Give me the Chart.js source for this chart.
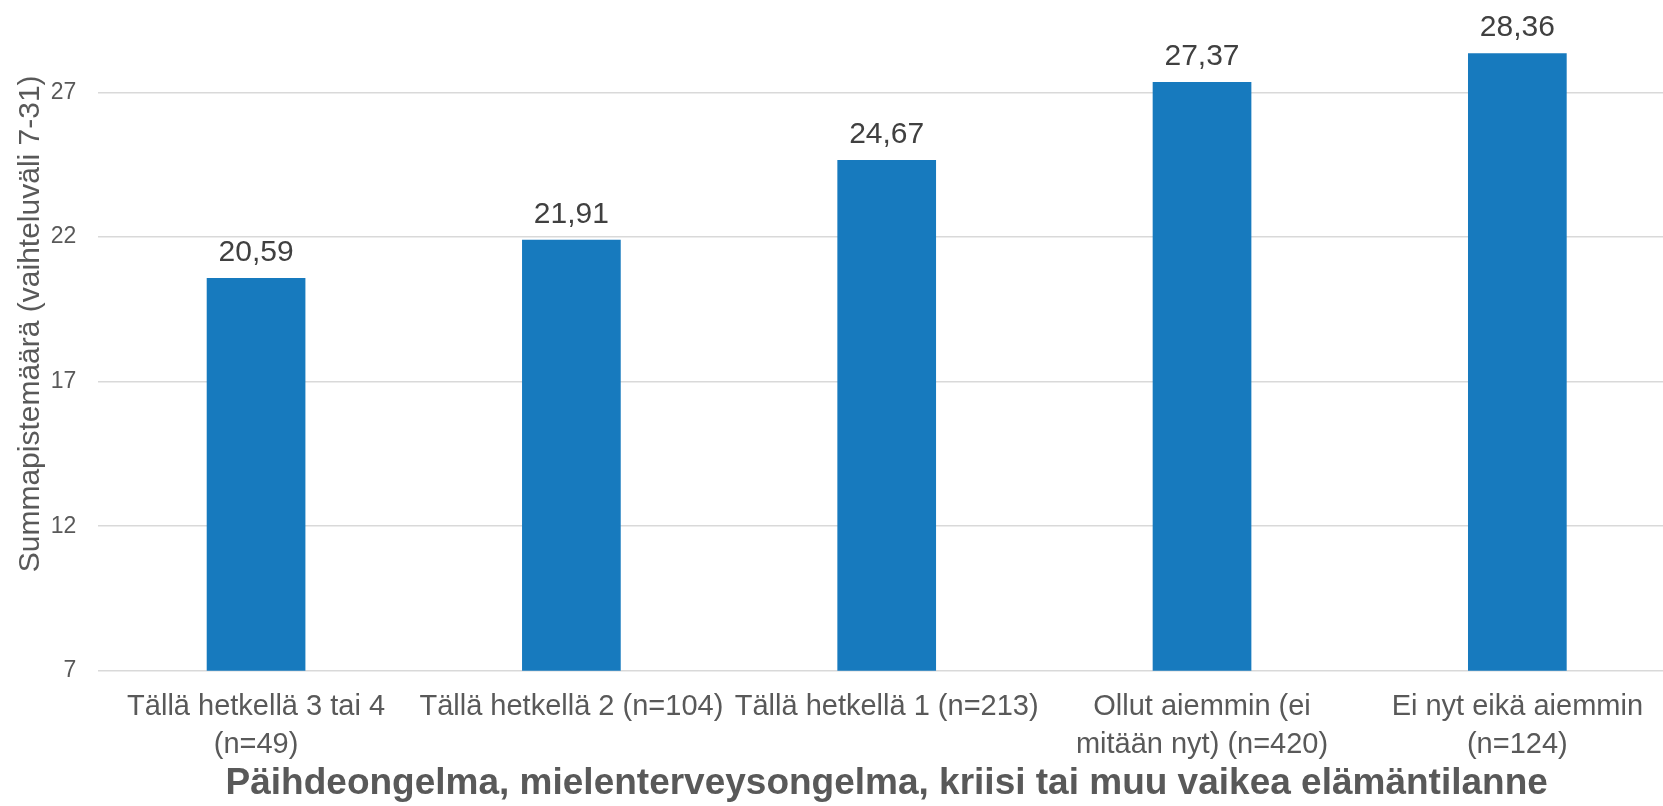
<!DOCTYPE html>
<html lang="fi">
<head>
  <meta charset="UTF-8" />
  <title>Summapistemäärä</title>
  <style>
    html, body {
      margin: 0;
      padding: 0;
      background: #fff;
      overflow: hidden;
      width: 1663px;
      height: 806px;
    }
    /* plot runs a little past the page on top and right */
    .wrap {
      position: absolute;
      left: 0;
      top: -23px;
      width: 1675px;
      height: 829px;
    }
  </style>
</head>
<body>
  <div class="wrap"><canvas id="chart"></canvas></div>

  <script src="https://cdn.jsdelivr.net/npm/chart.js"></script>
  <script>
    const categories = [
      ['Tällä hetkellä 3 tai 4', '(n=49)'],
      'Tällä hetkellä 2 (n=104)',
      'Tällä hetkellä 1 (n=213)',
      ['Ollut aiemmin (ei', 'mitään nyt) (n=420)'],
      ['Ei nyt eikä aiemmin', '(n=124)']
    ];
    const scores = [20.59, 21.91, 24.67, 27.37, 28.36];
    const yTicks = [7, 12, 17, 22, 27];
    const yTitle = 'Summapistemäärä (vaihteluväli 7-31)';
    const xTitle = 'Päihdeongelma, mielenterveysongelma, kriisi tai muu vaikea elämäntilanne';

    const FONT = "'Liberation Sans', Arial, sans-serif";

    // value labels above each bar, finnish decimal comma
    const valueLabels = {
      id: 'valueLabels',
      afterDatasetsDraw(chart) {
        const ctx = chart.ctx;
        const meta = chart.getDatasetMeta(0);
        ctx.save();
        ctx.font = '30px ' + FONT;
        ctx.fillStyle = '#404040';
        ctx.textAlign = 'center';
        ctx.textBaseline = 'alphabetic';
        meta.data.forEach((bar, i) => {
          const txt = scores[i].toFixed(2).replace('.', ',');
          ctx.fillText(txt, bar.x, bar.y - 17);
        });
        ctx.restore();
      }
    };

    new Chart(document.getElementById('chart'), {
      type: 'bar',
      data: {
        labels: categories,
        datasets: [{
          data: scores,
          backgroundColor: '#177abe',
          borderWidth: 0,
          categoryPercentage: 1,
          barPercentage: 0.313
        }]
      },
      options: {
        responsive: true,
        maintainAspectRatio: false,
        animation: false,
        layout: { padding: 0 },
        plugins: {
          legend: { display: false },
          tooltip: { enabled: false }
        },
        scales: {
          x: {
            grid: { display: false, drawTicks: false },
            border: { display: false },
            ticks: {
              color: '#595959',
              font: { family: FONT, size: 29, lineHeight: 1.32 },
              padding: 17,
              autoSkip: false,
              maxRotation: 0,
              minRotation: 0
            },
            title: {
              display: true,
              text: xTitle,
              color: '#595959',
              font: { family: FONT, size: 37, weight: 'bold', lineHeight: 1.2 },
              padding: { top: 0, bottom: 0 }
            },
            afterFit(scale) { scale.height = 135.3; }
          },
          y: {
            min: 7,
            max: 31,
            grid: { color: '#d9d9d9', lineWidth: 1.5, drawTicks: false },
            border: { display: false },
            ticks: {
              color: '#595959',
              font: { family: FONT, size: 23 },
              padding: 22
            },
            afterBuildTicks(scale) {
              scale.ticks = yTicks.map(v => ({ value: v }));
            },
            title: {
              display: true,
              text: yTitle,
              color: '#595959',
              font: { family: FONT, size: 30, lineHeight: 1.2 },
              padding: { top: 13, bottom: 0 }
            },
            afterFit(scale) {
              scale.width = 98.4;
              // no extra room for tick labels: plot fills the canvas height
              scale.paddingTop = 0;
              scale.paddingBottom = 0;
            }
          }
        }
      },
      plugins: [valueLabels]
    });
  </script>
</body>
</html>
